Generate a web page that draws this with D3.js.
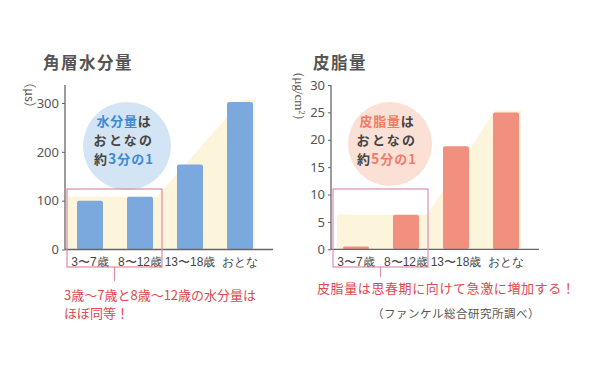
<!DOCTYPE html>
<html><head><meta charset="utf-8">
<script src="https://cdn.jsdelivr.net/npm/d3@7/dist/d3.min.js"></script>
<style>
body{margin:0;background:#fff;}
svg{display:block;font-family:"Noto Sans CJK JP","Noto Sans",sans-serif;}
</style></head>
<body><svg id="c" width="605" height="369"></svg>
<script>
const categories = ["3〜7歳", "8〜12歳", "13〜18歳", "おとな"];
const moistureValues = [100, 108, 174, 302];
const sebumValues = [0.5, 6.3, 18.8, 25];
const moistureTicks = [0, 100, 200, 300];
const sebumTicks = [0, 5, 10, 15, 20, 25, 30];

const svg = d3.select("#c");
svg.append("rect").attr("width",605).attr("height",369).attr("fill","#fff");

function panel(opt){
  const g = svg.append("g");
  const x = d3.scaleBand().domain(categories).range([opt.x0, opt.x0+200]).paddingInner(0.48).paddingOuter(0.24);
  const y = d3.scaleLinear().domain([0, opt.max]).range([opt.base, opt.top]);
  const v = opt.values;
  const bw = x.bandwidth();
  const pts = [
    [x(categories[0]) - opt.leftOff, opt.base],
    [x(categories[0]) - opt.leftOff, y(v[1])],
    [x(categories[1]) + bw + opt.diagOff, y(v[1])],
    [x(categories[3]) + opt.topOff, y(v[3]) - 2],
    [x(categories[3]) + bw + 2, y(v[3]) - 2],
    [x(categories[3]) + bw + 2, opt.base]
  ];
  g.append("polygon").attr("points", pts.map(p=>p.join(",")).join(" ")).attr("fill", "#fdf4dc");
  g.append("circle").attr("cx",opt.cx).attr("cy",opt.cy).attr("r",opt.cr).attr("fill",opt.circleFill);
  g.selectAll("rect.bar").data(v).enter().append("rect")
    .attr("x",(d,i)=>x(categories[i])).attr("y",d=>y(d))
    .attr("width",bw).attr("height",d=>opt.base-y(d))
    .attr("rx",2).attr("fill",opt.barColor);
  const ya = d3.axisLeft(y).tickValues(opt.ticks).tickSize(3).tickPadding(3);
  const ag = g.append("g").attr("transform",`translate(${opt.x0},0)`).call(ya);
  ag.select(".domain").remove();
  ag.selectAll("line").attr("stroke","#666");
  ag.selectAll("text").attr("font-size",13).attr("fill","#555").attr("font-family","'Noto Sans','DejaVu Sans',sans-serif");
  g.append("line").attr("x1",opt.x0).attr("x2",opt.x0).attr("y1",opt.base).attr("y2",85).attr("stroke","#666").attr("stroke-width",1.3);
  g.append("line").attr("x1",opt.x0).attr("x2",opt.x0+208).attr("y1",opt.base).attr("y2",opt.base).attr("stroke","#666").attr("stroke-width",1.3);
  const xa = d3.axisBottom(x).tickSize(0).tickPadding(8);
  const xg = g.append("g").attr("transform",`translate(0,${opt.base})`).call(xa);
  xg.select(".domain").remove();
  xg.selectAll("text").attr("font-size",12).attr("fill","#444");
  g.append("text").attr("x",opt.titleX).attr("y",69).attr("font-size",16.5).attr("font-weight","bold").attr("fill","#555").attr("letter-spacing",1.5).text(opt.title);
  g.append("text").attr("transform",`translate(${opt.unitX},${opt.unitY}) rotate(90)`).attr("text-anchor","middle")
    .attr("font-size",opt.unitSize).attr("fill","#555").attr("font-family",opt.unitFont).html(opt.unit);
  const fs = 13;
  const t1 = g.append("text").attr("x",opt.cx-3).attr("y",126).attr("text-anchor","middle").attr("font-size",fs).attr("font-weight","bold").attr("fill","#444").attr("letter-spacing",0.8);
  t1.append("tspan").attr("fill",opt.accent).text(opt.lead);
  t1.append("tspan").text("は");
  g.append("text").attr("x",opt.cx-3).attr("y",145).attr("text-anchor","middle").attr("font-size",fs).attr("font-weight","bold").attr("fill","#444").attr("letter-spacing",2.3).text("おとなの");
  const t3 = g.append("text").attr("x",opt.cx-3).attr("y",164).attr("text-anchor","middle").attr("font-size",fs).attr("font-weight","bold").attr("fill","#444").attr("letter-spacing",1);
  t3.append("tspan").text("約");
  t3.append("tspan").attr("fill",opt.accent).attr("font-size",14).text(opt.ratio[0]);
  t3.append("tspan").attr("fill",opt.accent).text(opt.ratio[1]);
  const bx0 = x(categories[0]) - 10, bx1 = x(categories[1]) + bw + 9;
  g.append("rect").attr("x",bx0).attr("y",189).attr("width",bx1-bx0).attr("height",78)
    .attr("fill","none").attr("stroke",opt.boxColor).attr("stroke-width",1.2);
  g.append("line").attr("x1",(bx0+bx1)/2).attr("x2",(bx0+bx1)/2).attr("y1",267).attr("y2",opt.stemEnd).attr("stroke",opt.boxColor).attr("stroke-width",1.2);
  return {x,y};
}

panel({x0:65, base:249.5, top:103, max:300, values:moistureValues, ticks:moistureTicks,
  barColor:"#7ba8dd", circleFill:"#d3e4f4", cx:127, cy:146, cr:44, accent:"#3d8bd4",
  lead:"水分量", ratio:["3","分の1"], title:"角層水分量", titleX:43,
  unit:"（μs）", unitX:25, unitY:95, unitSize:12.5, unitFont:"'Noto Sans CJK JP',sans-serif",
  boxColor:"#e28a9d", stemEnd:281, diagOff:4, topOff:15, leftOff:10});
panel({x0:331, base:249.3, top:85, max:30, values:sebumValues, ticks:sebumTicks,
  barColor:"#f2907f", circleFill:"#fbe0d6", cx:390, cy:144, cr:42, accent:"#f27b68",
  lead:"皮脂量", ratio:["5","分の1"], title:"皮脂量", titleX:313,
  unit:"（μg/cm<tspan baseline-shift='super' font-size='8'>2</tspan>）", unitX:295, unitY:96, unitSize:13, unitFont:"'Liberation Serif','DejaVu Serif',serif",
  boxColor:"#d98fb6", stemEnd:277, diagOff:8, topOff:2, leftOff:6});

svg.append("text").attr("x",64).attr("y",300).attr("font-size",13).attr("fill","#e0474f").text("3歳〜7歳と8歳〜12歳の水分量は");
svg.append("text").attr("x",64).attr("y",318).attr("font-size",13).attr("fill","#e0474f").text("ほぼ同等！");
svg.append("text").attr("x",317).attr("y",293).attr("font-size",13).attr("fill","#e0474f").attr("letter-spacing",0.6).text("皮脂量は思春期に向けて急激に増加する！");
svg.append("text").attr("x",456).attr("y",318).attr("text-anchor","middle").attr("font-size",11.5).attr("fill","#555").attr("letter-spacing",0.5).text("（ファンケル総合研究所調べ）");
</script></body></html>
